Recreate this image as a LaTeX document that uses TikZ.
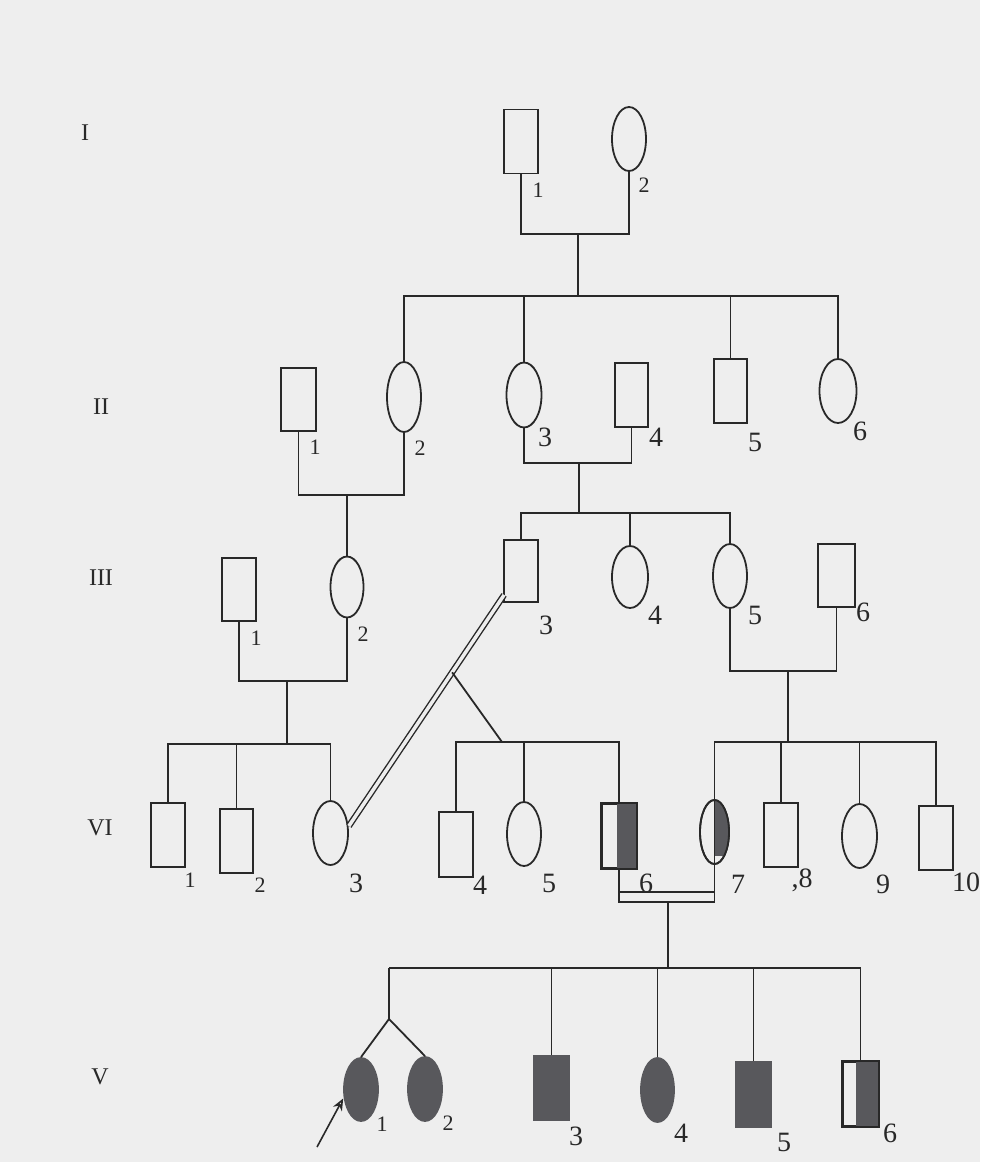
\documentclass[tikz,border=0pt]{standalone}
\usepackage{fontspec}
\setmainfont{Liberation Serif}
\usetikzlibrary{shapes.geometric,calc,arrows.meta}
\definecolor{bgc}{RGB}{238,238,238}
\definecolor{inkc}{RGB}{40,40,40}
\definecolor{affc}{RGB}{88,88,92}
\begin{document}
\begin{tikzpicture}[x=1pt,y=-1pt,
  ln/.style={line width=1.8pt, draw=inkc},
  dbl/.style={line width=1.4pt, draw=inkc, double=bgc, double distance=3.5pt},
  male/.style={rectangle, draw=inkc, line width=1.8pt, inner sep=0pt, minimum width=34pt, minimum height=64pt},
  fem/.style={ellipse, draw=inkc, line width=1.8pt, inner sep=0pt, minimum width=34pt, minimum height=64pt},
  aff/.style={fill=affc, draw=affc},
  lab/.style={font=\fontsize{22}{22}\selectfont, text=inkc, inner sep=0pt},
  labb/.style={font=\fontsize{28}{28}\selectfont, text=inkc, inner sep=0pt},
  gen/.style={font=\fontsize{24}{24}\selectfont, text=inkc, inner sep=0pt}]
\fill[bgc] (0,0) rectangle (980,1162);
\useasboundingbox (0,0) rectangle (980,1162);

% generation labels
\node[gen] (gI) at (85,133) {I};
\node[gen] (gII) at (101,407) {II};
\node[gen] (gIII) at (101,578) {III};
\node[gen] (gVI) at (100,828) {VI};
\node[gen] (gV) at (100,1077) {V};

% Generation I
\node[male] (I1) at (521,141.5) {};
\node[fem]  (I2) at (629,139) {};
% Generation II
\node[male, minimum width=35pt, minimum height=63pt] (II1) at (298.5,399.5) {};
\node[fem, minimum height=70pt] (II2) at (404,397) {};
\node[fem, minimum width=35pt, minimum height=65pt] (II3) at (524,395) {};
\node[male, minimum width=33pt] (II4) at (631.5,395) {};
\node[male, minimum width=33pt] (II5) at (730.5,391) {};
\node[fem, minimum width=37pt] (II6) at (838,391) {};
% Generation III
\node[male, minimum height=63pt] (III1) at (239,589.5) {};
\node[fem, minimum width=33pt, minimum height=61pt] (III2) at (347,587) {};
\node[male, minimum height=62pt] (III3) at (521,571) {};
\node[fem, minimum width=36pt, minimum height=62pt] (III4) at (630,577) {};
\node[fem] (III5) at (730,576) {};
\node[male, minimum width=37pt, minimum height=63pt] (III6) at (836.5,575.5) {};
% Generation VI
\node[male] (VI1) at (168,835) {};
\node[male, minimum width=33pt] (VI2) at (236.5,841) {};
\node[fem, minimum width=35pt] (VI3) at (330.5,833) {};
\node[male, minimum height=65pt] (VI4) at (456,844.5) {};
\node[fem] (VI5) at (524,834) {};
\node[male] (VI6) at (619,836) {};
\node[fem, minimum width=29pt] (VI7) at (714.5,832) {};
\node[male] (VI8) at (781,835) {};
\node[fem, minimum width=35pt] (VI9) at (859.5,836) {};
\node[male] (VI10) at (936,838) {};
% half-affected fills
\fill[affc] ([xshift=-2pt]VI6.north) rectangle (VI6.south east);
\draw[ln] (VI6.north west) rectangle (VI6.south east);
\begin{scope}
  \clip (VI7.north) rectangle ([xshift=3pt]VI7.south east);
  \fill[affc] (VI7.center) ellipse [x radius=14.5, y radius=32];
\end{scope}
\draw[ln] (VI7.north) -- (VI7.south);
\draw[ln] (VI7.center) ellipse [x radius=14.5, y radius=32];
% Generation V
\node[fem, aff, minimum height=63pt] (V1) at (361,1089.5) {};
\node[fem, aff] (V2) at (425,1089) {};
\node[male, aff, minimum width=35pt] (V3) at (551.5,1088) {};
\node[fem, aff, minimum width=33pt] (V4) at (657.5,1090) {};
\node[male, aff, minimum width=35pt, minimum height=65pt] (V5) at (753.5,1094.5) {};
\node[male, minimum width=35pt] (V6) at (860.5,1094) {};
\fill[affc] ([xshift=-4.5pt]V6.north) rectangle (V6.south east);
\draw[ln] (V6.north west) rectangle (V6.south east);

% I mating and sibship II
\coordinate (mI) at (578,234);
\coordinate (sII) at (578,296);
\draw[ln] (I1.south) |- (mI) -| (I2.south);
\draw[ln] (mI) -- (sII);
\draw[ln] (II2.north) -- (II2.north |- sII) -- (II6.north |- sII) -- (II6.north);
\draw[ln] (II3.north) -- (II3.north |- sII);
\draw[ln] (II5.north) -- (II5.north |- sII);

% II1 x II2
\coordinate (mII12) at (347,495);
\draw[ln] (II1.south) |- (mII12) -| (II2.south);
\draw[ln] (mII12) -- (III2.north);

% II3 x II4
\coordinate (mII34) at (579,463);
\coordinate (sIII) at (579,513);
\draw[ln] (II3.south) |- (mII34) -| (II4.south);
\draw[ln] (mII34) -- (sIII);
\draw[ln] (III3.north) -- (III3.north |- sIII) -- (III5.north |- sIII) -- (III5.north);
\draw[ln] (III4.north) -- (III4.north |- sIII);

% III1 x III2
\coordinate (mIII12) at (287,681);
\coordinate (sVIa) at (287,744);
\draw[ln] (III1.south) |- (mIII12) -| (III2.south);
\draw[ln] (mIII12) -- (sVIa);
\draw[ln] (VI1.north) -- (VI1.north |- sVIa) -- (VI3.north |- sVIa) -- (VI3.north);
\draw[ln] (VI2.north) -- (VI2.north |- sVIa);

% III5 x III6
\coordinate (mIII56) at (788,671);
\coordinate (sVIc) at (788,742);
\draw[ln] (III5.south) |- (mIII56) -| (III6.south);
\draw[ln] (mIII56) -- (sVIc);
\draw[ln] (VI7.north) -- (VI7.north |- sVIc) -- (VI10.north |- sVIc) -- (VI10.north);
\draw[ln] (VI8.north) -- (VI8.north |- sVIc);
\draw[ln] (VI9.north) -- (VI9.north |- sVIc);

% III3 = VI3 double line with offspring
\coordinate (dA) at ([xshift=1pt,yshift=8pt]III3.south west);
\coordinate (dB) at ([yshift=7pt]VI3.east);
\draw[dbl] (dA) -- (dB);
\coordinate (sVIb) at (502,742);
\draw[ln] ($(dA)!0.335!(dB)$) -- (sVIb);
\draw[ln] (VI4.north) -- (VI4.north |- sVIb) -- (VI6.north |- sVIb) -- (VI6.north);
\draw[ln] (VI5.north) -- (VI5.north |- sVIb);

% VI6 = VI7
\coordinate (mVI) at (668,902);
\coordinate (mVIt) at (668,892);
\coordinate (sV) at (668,968);
\draw[ln] (VI6.south) -- (VI6.south |- mVI) -- (VI7.south |- mVI) -- (VI7.south);
\draw[ln] (VI6.south |- mVIt) -- (VI7.south |- mVIt);
\draw[ln] (mVI) -- (sV);

% sibship V
\coordinate (tw) at (389,1019);
\draw[ln] (tw |- sV) -- (V6.north |- sV) -- (V6.north);
\draw[ln] (tw |- sV) -- (tw);
\draw[ln] (V1.north) -- (tw) -- (V2.north);
\draw[ln] (V3.north) -- (V3.north |- sV);
\draw[ln] (V4.north) -- (V4.north |- sV);
\draw[ln] (V5.north) -- (V5.north |- sV);

% proband arrow
\coordinate (arr) at (317,1147);
\draw[ln, line width=1.6pt, shorten >=1pt, -{Stealth[length=12pt, width=10pt, open]}] (arr) -- (V1.205);

% labels
\node[lab] (lI1) at (538,190) {1};
\node[lab] (lI2) at (644,185) {2};
\node[lab] (lII1) at (315,447) {1};
\node[lab] (lII2) at (420,448) {2};
\node[labb] (lII3) at (545,437) {3};
\node[labb] (lII4) at (656,437) {4};
\node[labb] (lII5) at (755,442) {5};
\node[labb] (lII6) at (860,431) {6};
\node[lab] (lIII1) at (256,638) {1};
\node[lab] (lIII2) at (363,634) {2};
\node[labb] (lIII3) at (546,625) {3};
\node[labb] (lIII4) at (655,615) {4};
\node[labb] (lIII5) at (755,615) {5};
\node[labb] (lIII6) at (863,612) {6};
\node[lab] (lVI1) at (190,880) {1};
\node[lab] (lVI2) at (260,885) {2};
\node[labb] (lVI3) at (356,883) {3};
\node[labb] (lVI4) at (480,885) {4};
\node[labb] (lVI5) at (549,883) {5};
\node[labb] (lVI6) at (646,883) {6};
\node[labb] (lVI7) at (738,884) {7};
\node[labb] (lVI8) at (802,880) {,8};
\node[labb] (lVI9) at (883,884) {9};
\node[labb] (lVI10) at (966,882) {10};
\node[lab] (lV1) at (382,1124) {1};
\node[lab] (lV2) at (448,1123) {2};
\node[labb] (lV3) at (576,1136) {3};
\node[labb] (lV4) at (681,1133) {4};
\node[labb] (lV5) at (784,1142) {5};
\node[labb] (lV6) at (890,1133) {6};
\end{tikzpicture}
\end{document}
